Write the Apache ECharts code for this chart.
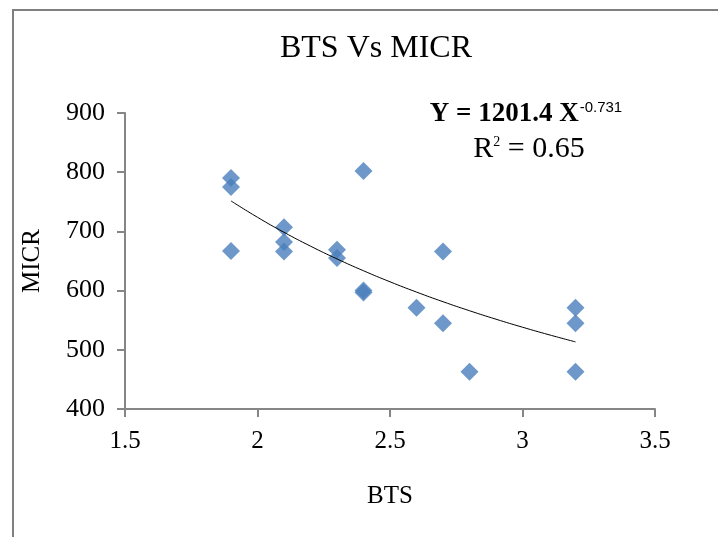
<!DOCTYPE html>
<html>
<head>
<meta charset="utf-8">
<script src="https://cdn.jsdelivr.net/npm/echarts@6/dist/echarts.min.js"></script>
<style>
  html, body { margin: 0; padding: 0; background: #fff; }
  #chart { width: 718px; height: 537px; }
</style>
</head>
<body>
<div id="chart"></div>
<script>
// BTS vs MICR
var bts  = [1.9, 1.9, 1.9, 2.1, 2.1, 2.1, 2.3, 2.3, 2.4, 2.4, 2.4, 2.6, 2.7, 2.7, 2.8, 3.2, 3.2, 3.2]
var micr = [790, 775, 667, 707, 682, 666, 669, 655, 802, 600, 597, 571, 666, 545, 463, 571, 545, 463]

// power trendline as given in the chart: Y = 1201.4 X^-0.731
var fitA = 1201.4
var fitB = -0.731
var fitX = [1.9, 2.0, 2.1, 2.2, 2.3, 2.4, 2.5, 2.6, 2.7, 2.8, 2.9, 3.0, 3.1, 3.2]

var xTicks = [1.5, 2, 2.5, 3, 3.5]
var yTicks = [400, 500, 600, 700, 800, 900]

var serif = '"Liberation Serif", "DejaVu Serif", serif'
var axisGray = '#868686'

var chart = echarts.init(document.getElementById('chart'))

chart.setOption({
  animation: false,
  backgroundColor: '#fff',
  title: {
    text: 'BTS Vs MICR',
    left: 371,
    top: 28,
    textAlign: 'center',
    textStyle: { fontFamily: serif, fontWeight: 'normal', fontSize: 32, color: '#000' }
  },
  graphic: [
    {
      type: 'rect',
      shape: { x: 13, y: 10, width: 720, height: 540 },
      style: { fill: 'none', stroke: '#808080', lineWidth: 2 }
    },
    {
      type: 'text',
      x: 526,
      y: 100,
      style: {
        text: '{b|Y = 1201.4 X}{s|' + fitB + '}',
        align: 'center',
        rich: {
          b: { fontFamily: serif, fontSize: 27, fontWeight: 'bold', fill: '#000' },
          s: { fontFamily: '"Liberation Sans", sans-serif', fontSize: 15, fill: '#000', padding: [0, 0, 14, 1] }
        }
      }
    },
    {
      type: 'text',
      x: 529,
      y: 134,
      style: {
        text: '{n|R}{s|2}{n| = 0.65}',
        align: 'center',
        rich: {
          n: { fontFamily: serif, fontSize: 30, fill: '#000' },
          s: { fontFamily: serif, fontSize: 14, fill: '#000', padding: [0, 0, 14, 0] }
        }
      }
    }
  ],
  grid: { left: 125, right: 63, top: 113, bottom: 128 },
  xAxis: {
    type: 'value',
    min: xTicks[0],
    max: xTicks[xTicks.length - 1],
    interval: 0.5,
    name: 'BTS',
    nameLocation: 'middle',
    nameGap: 75,
    nameTextStyle: { fontFamily: serif, fontSize: 25, color: '#000' },
    axisLine: { show: true, onZero: false, lineStyle: { color: axisGray, width: 2 } },
    axisTick: { show: true, length: 8, lineStyle: { color: axisGray, width: 2 } },
    axisLabel: { fontFamily: serif, fontSize: 25, color: '#000', margin: 20 },
    splitLine: { show: false }
  },
  yAxis: {
    type: 'value',
    min: yTicks[0],
    max: yTicks[yTicks.length - 1],
    interval: 100,
    name: 'MICR',
    nameLocation: 'middle',
    nameGap: 80,
    nameTextStyle: { fontFamily: serif, fontSize: 25, color: '#000' },
    axisLine: { show: true, lineStyle: { color: axisGray, width: 2 } },
    axisTick: { show: true, length: 8, lineStyle: { color: axisGray, width: 2 } },
    axisLabel: { fontFamily: serif, fontSize: 26, color: '#000', margin: 20 },
    splitLine: { show: false }
  },
  series: [
    {
      name: 'MICR',
      type: 'scatter',
      symbol: 'diamond',
      symbolSize: 18,
      itemStyle: { color: '#4a7ebb' },
      data: bts.map(function (x, i) { return [x, micr[i]] }),
      z: 2
    },
    {
      name: 'Power fit',
      type: 'line',
      showSymbol: false,
      smooth: true,
      lineStyle: { color: '#000', width: 1 },
      data: fitX.map(function (x) { return [x, fitA * Math.pow(x, fitB)] }),
      z: 3
    }
  ]
})
</script>
</body>
</html>
